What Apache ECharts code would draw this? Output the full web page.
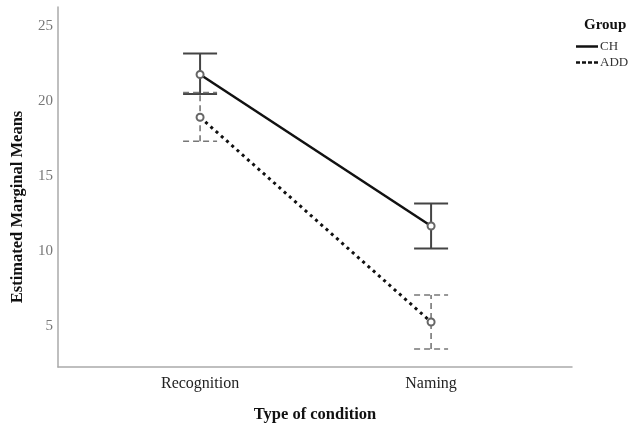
<!DOCTYPE html>
<html><head><meta charset="utf-8">
<script src="https://cdn.jsdelivr.net/npm/echarts@6/dist/echarts.min.js"></script>
<style>html,body{margin:0;padding:0;background:#fff}#c{width:629px;height:423px}</style>
</head><body><div id="c"></div>
<script>
const categories = ['Recognition', 'Naming'];
const yTicks = [5, 10, 15, 20, 25];
const chMean = [21.8, 11.7];
const chLow = [20.5, 10.2];
const chHigh = [23.2, 13.2];
const addMean = [18.95, 5.3];
const addLow = [17.35, 3.5];
const addHigh = [20.6, 7.1];

const chart = echarts.init(document.getElementById('c'));
const serif = '"Liberation Serif", "DejaVu Serif", serif';

function errItem(color, width, dash) {
  return function (params, api) {
    const x = api.value(0);
    const lo = api.coord([x, api.value(1)]);
    const hi = api.coord([x, api.value(2)]);
    const h = 17;
    const style = { stroke: color, lineWidth: width, lineDash: dash, fill: null };
    return {
      type: 'group',
      children: [
        { type: 'line', shape: { x1: lo[0], y1: lo[1], x2: hi[0], y2: hi[1] }, style },
        { type: 'line', shape: { x1: hi[0] - h, y1: hi[1], x2: hi[0] + h, y2: hi[1] }, style },
        { type: 'line', shape: { x1: lo[0] - h, y1: lo[1], x2: lo[0] + h, y2: lo[1] }, style }
      ]
    };
  };
}
const pts = arr => arr.map((v, i) => [i, v]);
const bars = (lo, hi) => lo.map((v, i) => [i, v, hi[i]]);

chart.setOption({
  animation: false,
  backgroundColor: '#fff',
  grid: { left: 58, right: 57, top: 7, bottom: 56, containLabel: false, outerBoundsMode: 'none' },
  title: { text: 'Group', left: 579, top: 13, textStyle: { fontFamily: serif, fontSize: 15, fontWeight: 'bold', color: '#111' } },
  legend: {
    orient: 'vertical', left: 571, top: 35, itemGap: 3, itemWidth: 22, itemHeight: 10,
    textStyle: { fontFamily: serif, fontSize: 13, color: '#333', padding: [0, 0, 0, -3] },
    data: [
      { name: 'CH', icon: 'path://M0,4 H22 V6.5 H0 Z', itemStyle: { color: '#111' } },
      { name: 'ADD', icon: 'path://M0,4 H4 V6.5 H0 Z M6,4 H10 V6.5 H6 Z M12,4 H16 V6.5 H12 Z M18,4 H22 V6.5 H18 Z', itemStyle: { color: '#111' } }
    ]
  },
  graphic: [{
    type: 'text', x: 18, y: 207, rotation: Math.PI / 2,
    style: { text: 'Estimated Marginal Means', font: 'bold 16.5px ' + serif, fill: '#111', textAlign: 'center', textVerticalAlign: 'middle' }
  }],
  xAxis: {
    type: 'value', min: -0.615, max: 1.61,
    name: 'Type of condition', nameLocation: 'middle', nameGap: 39,
    nameTextStyle: { fontFamily: serif, fontSize: 16.5, fontWeight: 'bold', color: '#111' },
    axisLine: { show: true, onZero: false, lineStyle: { color: '#aaa', width: 1.5 } },
    axisTick: { show: false },
    splitLine: { show: false },
    axisLabel: { customValues: [0, 1], formatter: v => categories[Math.round(v)], fontFamily: serif, fontSize: 16, color: '#222', margin: 9 }
  },
  yAxis: {
    type: 'value', min: 2.3, max: 26.3,
    axisLine: { show: true, onZero: false, lineStyle: { color: '#aaa', width: 1.5 } },
    axisTick: { show: false },
    splitLine: { show: false },
    axisLabel: { customValues: yTicks, fontFamily: serif, fontSize: 15, color: '#777', margin: 5 }
  },
  series: [
    { type: 'custom', name: 'CHerr', renderItem: errItem('#444', 2, null), data: bars(chLow, chHigh), z: 2, silent: true },
    { type: 'custom', name: 'ADDerr', renderItem: errItem('#777', 1.6, [6, 4]), data: bars(addLow, addHigh), z: 2, silent: true },
    { type: 'line', name: 'CH', data: pts(chMean), symbol: 'emptyCircle', symbolSize: 7,
      lineStyle: { color: '#111', width: 2.5 }, itemStyle: { color: '#666', borderWidth: 1 }, z: 3 },
    { type: 'line', name: 'ADD', data: pts(addMean), symbol: 'emptyCircle', symbolSize: 7,
      lineStyle: { color: '#111', width: 3, type: [3, 4] }, itemStyle: { color: '#666', borderWidth: 1 }, z: 3 }
  ]
});
</script></body></html>
